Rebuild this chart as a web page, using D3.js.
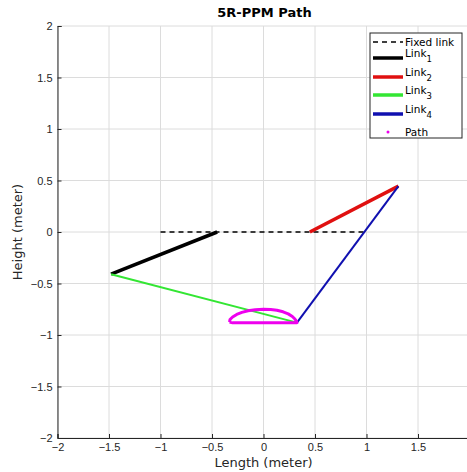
<!DOCTYPE html>
<html>
  <head>
    <meta charset="utf-8">
    <script src="https://d3js.org/d3.v7.min.js"></script>
    <style>
      body { margin: 0; background: #fff; }
      svg { display: block; font-family: "DejaVu Sans", sans-serif; }
      .tick text { fill: #262626; font-size: 11px; }
      .axis-label { fill: #262626; font-size: 13px; }
      .legend text { fill: #000; font-size: 10.5px; }
    </style>
  </head>
  <body>
    <svg width="467" height="472"></svg>
    <script>
      // data (meters)
      const xTicks = [-2, -1.5, -1, -0.5, 0, 0.5, 1, 1.5, 2];
      const yTicks = [-2, -1.5, -1, -0.5, 0, 0.5, 1, 1.5, 2];

      const fixedLink = [[-1, 0], [1, 0]];
      const link1 = [[-0.45, 0], [-1.48, -0.41]];
      const link2 = [[0.45, 0], [1.31, 0.445]];
      const link3 = [[-1.48, -0.41], [0.325, -0.88]];
      const link4 = [[0.325, -0.88], [1.31, 0.445]];
      const pathPts = [
        [-0.33, -0.875], [-0.325, -0.85], [-0.30, -0.825], [-0.26, -0.80],
        [-0.21, -0.78], [-0.15, -0.765], [-0.08, -0.755], [0, -0.75],
        [0.07, -0.752], [0.13, -0.76], [0.19, -0.775], [0.24, -0.795],
        [0.28, -0.82], [0.305, -0.845], [0.32, -0.865], [0.325, -0.88],
        [0.2, -0.882], [0.1, -0.882], [0, -0.882], [-0.1, -0.882],
        [-0.2, -0.882], [-0.3, -0.882], [-0.33, -0.875]
      ];

      const svg = d3.select('svg');
      const margin = { left: 57.5, top: 26 };
      const innerW = 412, innerH = 412;

      const x = d3.scaleLinear().domain([-2, 2]).range([0, innerW]);
      const y = d3.scaleLinear().domain([-2, 2]).range([innerH, 0]);

      const g = svg.append('g')
          .attr('transform', `translate(${margin.left},${margin.top})`);

      // grid
      g.append('g').selectAll('line').data(xTicks).enter().append('line')
          .attr('x1', d => x(d)).attr('x2', d => x(d))
          .attr('y1', 0).attr('y2', innerH)
          .attr('stroke', '#dcdcdc').attr('stroke-width', 1);
      g.append('g').selectAll('line').data(yTicks).enter().append('line')
          .attr('y1', d => y(d)).attr('y2', d => y(d))
          .attr('x1', 0).attr('x2', innerW)
          .attr('stroke', '#dcdcdc').attr('stroke-width', 1);

      // axes
      const xAxis = d3.axisBottom(x).tickValues(xTicks).tickSize(-4).tickPadding(5)
          .tickFormat(d3.format('~g'));
      const yAxis = d3.axisLeft(y).tickValues(yTicks).tickSize(-4).tickPadding(5)
          .tickFormat(d3.format('~g'));
      const xg = g.append('g').attr('transform', `translate(0,${innerH})`).call(xAxis);
      const yg = g.append('g').call(yAxis);
      [xg, yg].forEach(a => {
        a.select('.domain').attr('stroke', '#262626');
        a.selectAll('.tick line').attr('stroke', '#262626');
      });
      xg.selectAll('.tick text').text(d => d === 0 ? '0' : d3.format('~g')(d).replace('-', '-'));
      yg.selectAll('.tick text').text(d => d3.format('~g')(d).replace('-', '-'));

      // labels
      svg.append('text').attr('class', 'axis-label')
          .attr('x', margin.left + x(0)).attr('y', 467)
          .attr('text-anchor', 'middle').text('Length (meter)');
      svg.append('text').attr('class', 'axis-label')
          .attr('transform', `translate(22,${margin.top + y(0)}) rotate(-90)`)
          .attr('text-anchor', 'middle').text('Height (meter)');
      svg.append('text')
          .attr('x', margin.left + x(0) + 1).attr('y', 17)
          .attr('text-anchor', 'middle')
          .style('font-size', '13px').style('font-weight', 'bold').attr('fill', '#000')
          .text('5R-PPM Path');

      // marks
      const line = d3.line().x(d => x(d[0])).y(d => y(d[1]));
      const plot = g.append('g');
      plot.append('path').attr('d', line(fixedLink)).attr('fill', 'none')
          .attr('stroke', '#000').attr('stroke-width', 1.3).attr('stroke-dasharray', '5,4');
      plot.append('path').attr('d', line(link1)).attr('fill', 'none')
          .attr('stroke', '#000').attr('stroke-width', 3.5);
      plot.append('path').attr('d', line(link2)).attr('fill', 'none')
          .attr('stroke', '#e01010').attr('stroke-width', 3.5);
      plot.append('path').attr('d', line(link3)).attr('fill', 'none')
          .attr('stroke', '#33e633').attr('stroke-width', 2);
      plot.append('path').attr('d', line(link4)).attr('fill', 'none')
          .attr('stroke', '#1010b0').attr('stroke-width', 2);
      plot.append('path').attr('d', line(pathPts)).attr('fill', 'none')
          .attr('stroke', '#ee00ee').attr('stroke-width', 3)
          .attr('stroke-linejoin', 'round');

      // legend
      const legendItems = [
        { label: 'Fixed link', sub: null, color: '#000', w: 1.3, dash: '5,4' },
        { label: 'Link', sub: '1', color: '#000', w: 3.5 },
        { label: 'Link', sub: '2', color: '#e01010', w: 3.5 },
        { label: 'Link', sub: '3', color: '#33e633', w: 3.5 },
        { label: 'Link', sub: '4', color: '#1010b0', w: 3.5 },
        { label: 'Path', sub: null, color: '#ee00ee', dot: true }
      ];
      const leg = svg.append('g').attr('class', 'legend').attr('transform', 'translate(370,33)');
      leg.append('rect').attr('width', 92).attr('height', 105)
          .attr('fill', '#fff').attr('stroke', '#262626').attr('stroke-width', 1);
      const rowY = [9, 25, 44, 62, 81, 99];
      legendItems.forEach((d, i) => {
        const r = leg.append('g').attr('transform', `translate(0,${rowY[i]})`);
        if (d.dot) {
          r.append('circle').attr('cx', 18).attr('cy', 0).attr('r', 1.5).attr('fill', d.color);
        } else {
          r.append('line').attr('x1', 3).attr('x2', 33).attr('y1', 0).attr('y2', 0)
              .attr('stroke', d.color).attr('stroke-width', d.w)
              .attr('stroke-dasharray', d.dash || null);
        }
        const t = r.append('text').attr('x', 35).attr('y', d.sub ? -1 : 3.5).text(d.label);
        if (d.sub) {
          t.append('tspan').attr('dy', 5).style('font-size', '8.5px').text(d.sub);
        }
      });
    </script>
  </body>
</html>
